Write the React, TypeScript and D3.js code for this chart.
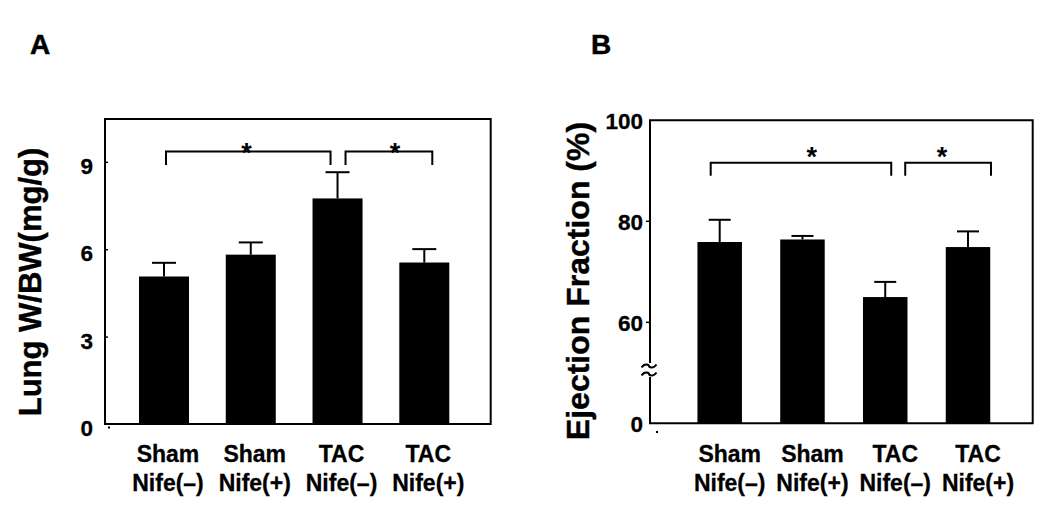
import React from "react";
import * as d3 from "d3";

const categories = ["Sham Nife(–)", "Sham Nife(+)", "TAC Nife(–)", "TAC Nife(+)"];
const catLine1 = ["Sham", "Sham", "TAC", "TAC"];
const catLine2 = ["Nife(–)", "Nife(+)", "Nife(–)", "Nife(+)"];

const lungMean = [5.08, 5.83, 7.76, 5.56];
const lungErr = [0.47, 0.42, 0.9, 0.46];
const lungTicks = [0, 3, 6, 9];

const efMean = [75.9, 76.4, 65.0, 74.9];
const efErr = [4.4, 0.7, 3.0, 3.1];
const efTicks = [40, 60, 80, 100];
const efTickLabels = ["0", "60", "80", "100"];

// significance brackets: [fromIndex, toIndex]
const lungBrackets = [[0, 2], [2, 3]];
const efBrackets = [[0, 2], [2, 3]];

const FONT = "'Liberation Sans', Arial, Helvetica, sans-serif";

export default function App() {
  // Panel A scales
  const xA = d3.scalePoint<string>().domain(categories).range([164, 424.3]);
  const yA = d3.scaleLinear().domain([0, 10.5]).range([424.5, 118.6]);
  const bwA = 50;
  // Panel B scales
  const xB = d3.scalePoint<string>().domain(categories).range([719.7, 968]);
  const yB = d3.scaleLinear().domain([40, 100]).range([423.3, 120.3]);
  const bwB = 44.5;

  const bracketA = [
    { a: 2, b: -7, top: 9.37, leg: 8.91, star: 0.49 },
    { a: 8, b: 8, top: 9.37, leg: 8.91, star: 0.57 },
  ];
  const bracketB = [
    { a: -9, b: 6, top: 91.6, leg: 89.0, star: 0.56 },
    { a: 20, b: 23, top: 91.6, leg: 89.0, star: 0.43 },
  ];

  const frameA = { x0: 105, x1: 490.7, y0: 119, y1: 424 };
  const frameB = { x0: 650, x1: 1032.7, y0: 120.3, y1: 423.3 };

  const renderBars = (x: any, y: any, bw: number, means: number[], errs: number[], capHalf: number, base: number) =>
    categories.map((c, i) => {
      const cx = x(c);
      const top = y(means[i]);
      const et = y(means[i] + errs[i]);
      return (
        <g key={c}>
          <line x1={cx} x2={cx} y1={top} y2={et} stroke="#000" strokeWidth={2} />
          <line x1={cx - capHalf} x2={cx + capHalf} y1={et} y2={et} stroke="#000" strokeWidth={2} />
          <rect x={cx - bw / 2} y={top} width={bw} height={y(base) - top} fill="#000" />
        </g>
      );
    });

  const renderBrackets = (x: any, y: any, pairs: number[][], specs: any[], starGap: number) =>
    pairs.map((p, k) => {
      const s = specs[k];
      const xa = x(categories[p[0]]) + s.a;
      const xb = x(categories[p[1]]) + s.b;
      const yt = y(s.top);
      const yl = y(s.leg);
      const sx = xa + (xb - xa) * s.star;
      return (
        <g key={k}>
          <path d={`M${xa},${yl}V${yt}H${xb}V${yl}`} fill="none" stroke="#000" strokeWidth={2} />
          <text x={sx} y={yt - starGap + 15} textAnchor="middle" fontSize={27} fontWeight="bold" fontFamily={FONT}>*</text>
        </g>
      );
    });

  const xLabels = (x: any, off: number) =>
    categories.map((c, i) => (
      <g key={c} fontFamily={FONT} fontWeight="bold" fontSize={23} textAnchor="middle" stroke="#000" strokeWidth={0.3}>
        <text x={x(c) + off} y={462}>{catLine1[i]}</text>
        <text x={x(c) + off} y={491}>{catLine2[i]}</text>
      </g>
    ));

  const tilde = (cx: number, cy: number) =>
    `M${cx - 7.5},${cy + 1.5} C${cx - 4},${cy - 3.5} ${cx},${cy - 1} ${cx},${cy} S${cx + 4},${cy + 3.5} ${cx + 7.5},${cy - 1.5}`;

  return (
    <svg width={1050} height={518} style={{ position: "absolute", left: 0, top: 0, background: "#fff" }}>
      <rect x={0} y={0} width={1050} height={518} fill="#fff" />
      {/* Panel letters */}
      <text x={30} y={53.5} fontFamily={FONT} fontWeight="bold" fontSize={28} stroke="#000" strokeWidth={0.5}>A</text>
      <text x={591} y={53.5} fontFamily={FONT} fontWeight="bold" fontSize={28} stroke="#000" strokeWidth={0.5}>B</text>

      {/* ===== Panel A ===== */}
      <g>
        {renderBars(xA, yA, bwA, lungMean, lungErr, 12, 0)}
        <rect x={frameA.x0} y={frameA.y0} width={frameA.x1 - frameA.x0} height={frameA.y1 - frameA.y0} fill="none" stroke="#000" strokeWidth={2} />
        {lungTicks.map((t) => (
          <g key={t}>
            {t > 0 && <line x1={frameA.x0} x2={frameA.x0 + 3} y1={yA(t)} y2={yA(t)} stroke="#000" strokeWidth={1.5} />}
            <text x={93} y={yA(t) + 4} textAnchor="end" dominantBaseline="central" fontFamily={FONT} fontWeight="bold" fontSize={22.5} stroke="#000" strokeWidth={0.3}>{t}</text>
          </g>
        ))}
        <rect x={108} y={426.5} width={2} height={2} fill="#000" />
        {renderBrackets(xA, yA, lungBrackets, bracketA, 5)}
        {xLabels(xA, 4)}
        <text transform={`translate(30,282) rotate(-90)`} textAnchor="middle" dominantBaseline="central" fontFamily={FONT} fontWeight="bold" fontSize={31} stroke="#000" strokeWidth={0.4}>Lung W/BW(mg/g)</text>
      </g>

      {/* ===== Panel B ===== */}
      <g>
        {renderBars(xB, yB, bwB, efMean, efErr, 11, 40)}
        <path d={`M${frameB.x0},363V${frameB.y0}H${frameB.x1}V${frameB.y1}H${frameB.x0}V377`} fill="none" stroke="#000" strokeWidth={2} />
        <path d={tilde(649, 366)} fill="none" stroke="#000" strokeWidth={2} />
        <path d={tilde(649, 374)} fill="none" stroke="#000" strokeWidth={2} />
        {efTicks.map((t, i) => (
          <g key={t}>
            {t > 40 && t < 100 && <line x1={frameB.x0 - 4} x2={frameB.x0} y1={yB(t)} y2={yB(t)} stroke="#000" strokeWidth={1.5} />}
            <text x={643} y={yB(t) + 1} textAnchor="end" dominantBaseline="central" fontFamily={FONT} fontWeight="bold" fontSize={22.5} stroke="#000" strokeWidth={0.3}>{efTickLabels[i]}</text>
          </g>
        ))}
        <rect x={656} y={431} width={2} height={2} fill="#000" />
        {renderBrackets(xB, yB, efBrackets, bracketB, 12)}
        {xLabels(xB, 10)}
        <text transform={`translate(578,281) rotate(-90)`} textAnchor="middle" dominantBaseline="central" fontFamily={FONT} fontWeight="bold" fontSize={32} stroke="#000" strokeWidth={0.4}>Ejection Fraction (%)</text>
      </g>
    </svg>
  );
}
